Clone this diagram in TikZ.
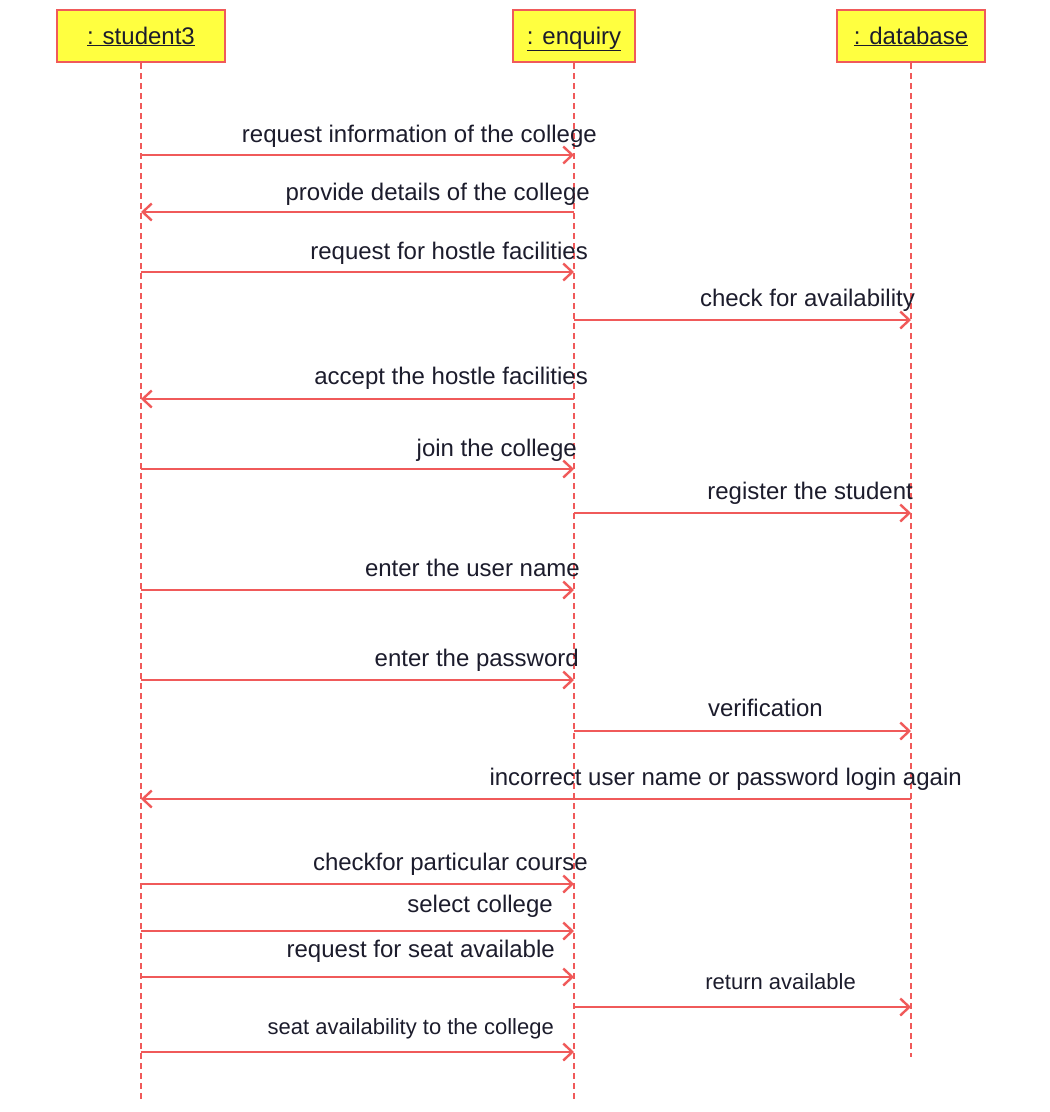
\documentclass[tikz,border=0pt]{standalone}
\usepackage{fontspec}
\setmainfont{Liberation Sans}
\usepackage{tikz}
\usetikzlibrary{arrows.meta}
\definecolor{umlred}{HTML}{F05A5A}
\definecolor{umlyellow}{HTML}{FFFF40}
\definecolor{umltext}{HTML}{1C1C2C}

\begin{document}
\begin{tikzpicture}[x=1pt,y=-1pt,
  obj/.style={draw=umlred, line width=2.5pt, fill=umlyellow, minimum height=52pt, inner sep=0pt, text height=20pt, text depth=4pt, text=umltext, font=\fontsize{24}{28}\selectfont},
  life/.style={umlred, line width=1.6pt, dash pattern=on 6pt off 4pt},
  msg/.style={umlred, line width=2.4pt, -{Straight Barb[length=9pt,width=17pt]}},
  lbl/.style={anchor=base east, inner sep=0pt, text=umltext}]
\useasboundingbox (0,0) rectangle (1050,1112);
\node[obj, minimum width=168pt] (stu) at (141,36) {\underline{: student3}};
\node[obj, minimum width=122pt] (enq) at (574,36) {\underline{: enquiry}};
\node[obj, minimum width=148pt] (db) at (911,36) {\underline{: database}};
\coordinate (stu end) at (stu |- 0,1102);
\coordinate (enq end) at (enq |- 0,1102);
\coordinate (db end) at (db |- 0,1057);
\draw[life](stu.south)--(stu end);
\draw[life](enq.south)--(enq end);
\draw[life](db.south)--(db end);
\foreach \y/\a/\b/\r/\l/\s/\t [count=\i] in {
155/stu/enq/597/142/24/request information of the college,
212/enq/stu/590/200/24/provide details of the college,
272/stu/enq/588/259/24/request for hostle facilities,
320/enq/db/915/306/24/check for availability,
399/enq/stu/588/384/24/accept the hostle facilities,
469/stu/enq/577/456/24/join the college,
513/enq/db/913/499/24/register the student,
590/stu/enq/580/576/24/enter the user name,
680/stu/enq/579/666/24/enter the password,
731/enq/db/823/716/24/verification,
799/db/stu/962/785/24/incorrect user name or password login again,
884/stu/enq/588/870/24/checkfor particular course,
931/stu/enq/553/912/24/select college,
977/stu/enq/555/957/24/request for seat available,
1007/enq/db/856/989/22/return available,
1052/stu/enq/554/1034/22/seat availability to the college}{
\draw[msg](\a |- 0,\y)--(\b |- 0,\y);
\node[lbl, font=\fontsize{\s}{\s}\selectfont] (m\i) at (\r,\l) {\t};}
\end{tikzpicture}
\end{document}
